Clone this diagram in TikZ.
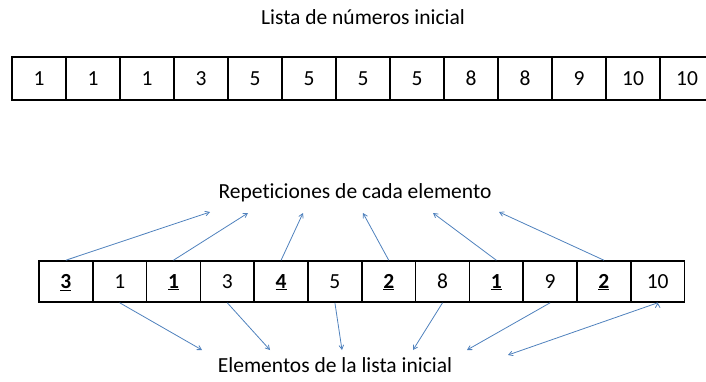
\documentclass[tikz,border=0pt]{standalone}
\usepackage{fontspec}
\setmainfont{Carlito}[Ligatures=NoCommon]
\usetikzlibrary{arrows}
\definecolor{arrowblue}{RGB}{79,129,189}

\begin{document}
\begin{tikzpicture}[x=1pt,y=-1pt,>=angle 60,node distance=54pt,
                    font=\fontsize{21.5}{26}\selectfont]

  \tikzstyle{cell}=[rectangle,draw,line width=1.6pt,inner sep=0pt,
                    text height=13.5pt,text depth=0pt,
                    minimum width=54pt,minimum height=43pt]
  \tikzstyle{lowcell}=[cell,minimum width=53.8pt,minimum height=41pt]
  \tikzstyle{link}=[->,draw=arrowblue,line width=0.8pt]

  \useasboundingbox (0,0) rectangle (706,381);

  \node (title) at (363,17) {Lista de números inicial};

  \node[cell] (t1) at (39,78.5)   {1};
  \node[cell] (t2)  [right of=t1]  {1};
  \node[cell] (t3)  [right of=t2]  {1};
  \node[cell] (t4)  [right of=t3]  {3};
  \node[cell] (t5)  [right of=t4]  {5};
  \node[cell] (t6)  [right of=t5]  {5};
  \node[cell] (t7)  [right of=t6]  {5};
  \node[cell] (t8)  [right of=t7]  {5};
  \node[cell] (t9)  [right of=t8]  {8};
  \node[cell] (t10) [right of=t9]  {8};
  \node[cell] (t11) [right of=t10] {9};
  \node[cell] (t12) [right of=t11] {10};
  \node[cell] (t13) [right of=t12] {10};

  \node (reps)  at (355,193) {Repeticiones de cada elemento};
  \node (elems) at (335,365) {Elementos de la lista inicial};

  \begin{scope}[node distance=53.8pt]
  \node[lowcell] (b1) at (65.9,281.5) {\underline{\textbf{3}}};
  \node[lowcell] (b2)  [right of=b1]  {1};
  \node[lowcell] (b3)  [right of=b2]  {\underline{\textbf{1}}};
  \node[lowcell] (b4)  [right of=b3]  {3};
  \node[lowcell] (b5)  [right of=b4]  {\underline{\textbf{4}}};
  \node[lowcell] (b6)  [right of=b5]  {5};
  \node[lowcell] (b7)  [right of=b6]  {\underline{\textbf{2}}};
  \node[lowcell] (b8)  [right of=b7]  {8};
  \node[lowcell] (b9)  [right of=b8]  {\underline{\textbf{1}}};
  \node[lowcell] (b10) [right of=b9]  {9};
  \node[lowcell] (b11) [right of=b10] {\underline{\textbf{2}}};
  \node[lowcell] (b12) [right of=b11] {10};
  \end{scope}

  \coordinate (r1) at (210,212);
  \coordinate (r2) at (248,213);
  \coordinate (r3) at (303,213);
  \coordinate (r4) at (363,213);
  \coordinate (r5) at (433,213);
  \coordinate (r6) at (499,212);

  \coordinate (e1) at (202,350);
  \coordinate (e2) at (270,350);
  \coordinate (e3) at (342,350);
  \coordinate (e4) at (413,350);
  \coordinate (e5) at (467,350);
  \coordinate (e6) at (508,355);

  \path[link]
  (b1.north)  edge (r1)
  (b3.north)  edge (r2)
  (b5.north)  edge (r3)
  (b7.north)  edge (r4)
  (b9.north)  edge (r5)
  (b11.north) edge (r6)

  (b2.south)  edge (e1)
  (b4.south)  edge (e2)
  (b6.south)  edge (e3)
  (b8.south)  edge (e4)
  (b10.south) edge (e5)
  (b12.south) edge (e6)
  ;
\end{tikzpicture}
\end{document}
